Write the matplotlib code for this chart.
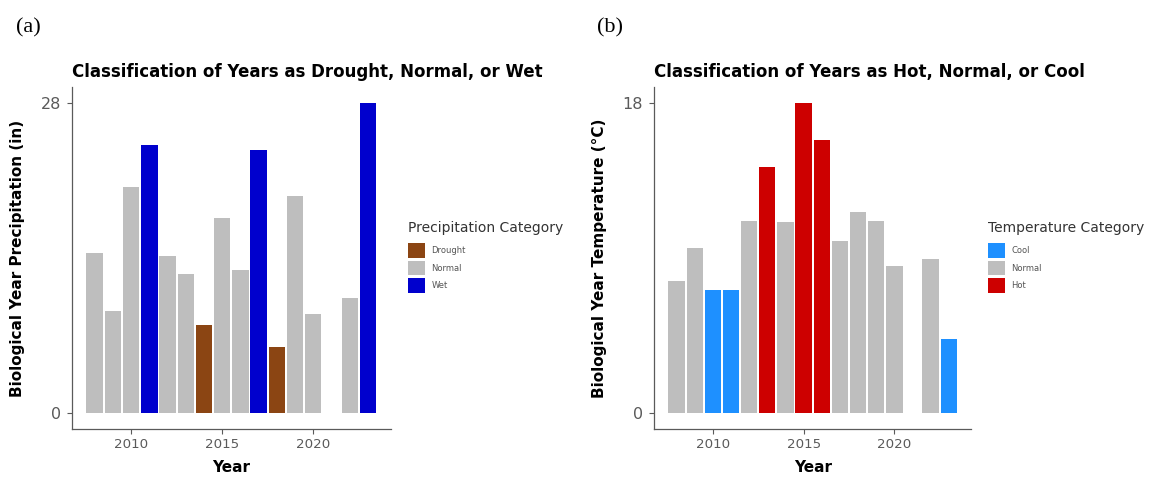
import numpy as np
import matplotlib.pyplot as plt
from matplotlib.patches import Patch

plt.rcParams['font.family'] = ['DejaVu Sans']

# datos
years = [2008, 2009, 2010, 2011, 2012, 2013, 2014, 2015, 2016, 2017, 2018, 2019, 2020, 2022, 2023]
precip = [14.5, 9.2, 20.4, 24.2, 14.2, 12.6, 8.0, 17.6, 12.9, 23.7, 6.0, 19.6, 9.0, 10.4, 28.0]
precip_cat = ['Normal', 'Normal', 'Normal', 'Wet', 'Normal', 'Normal', 'Drought', 'Normal',
              'Normal', 'Wet', 'Drought', 'Normal', 'Normal', 'Normal', 'Wet']
temp = [7.7, 9.6, 7.15, 7.15, 11.15, 14.25, 11.1, 18.0, 15.85, 10.0, 11.65, 11.15, 8.55, 8.95, 4.3]
temp_cat = ['Normal', 'Normal', 'Cool', 'Cool', 'Normal', 'Hot', 'Normal', 'Hot',
            'Hot', 'Normal', 'Normal', 'Normal', 'Normal', 'Normal', 'Cool']

precip_levels = ['Drought', 'Normal', 'Wet']
temp_levels = ['Cool', 'Normal', 'Hot']
precip_colors = {'Drought': '#8B4513', 'Normal': '#BEBEBE', 'Wet': '#0000CD'}
temp_colors = {'Cool': '#1E90FF', 'Normal': '#BEBEBE', 'Hot': '#CD0000'}

W, H = 1150, 478
fig = plt.figure(figsize=(W / 100, H / 100), dpi=100)


def panel(left, right, vals, cats, colors, levels, ymax, title, ylabel, legtitle, legx, letter, letx):
    ax = fig.add_axes([left / W, 1 - 429 / H, (right - left) / W, 341.8 / H])
    ax.bar(years, vals, width=0.9, color=[colors[c] for c in cats], linewidth=0)
    ax.set_xlim(2006.755, 2024.245)
    ax.set_ylim(-0.05 * ymax, 1.05 * ymax)
    ax.set_xticks([2010, 2015, 2020])
    ax.set_yticks([0, ymax])
    for s in ['top', 'right']:
        ax.spines[s].set_visible(False)
    for s in ['left', 'bottom']:
        ax.spines[s].set_color('#5a5a5a')
        ax.spines[s].set_linewidth(0.9)
    ax.tick_params(axis='x', labelsize=9.6, colors='#5a5a5a', length=3.6, width=0.8, pad=3)
    ax.tick_params(axis='y', labelsize=11.5, colors='#5a5a5a', length=3.6, width=0.8, pad=4.5)

    ax.set_title(title, loc='left', fontsize=12, fontweight='bold', pad=7)
    ax.set_xlabel('Year', fontsize=11, fontweight='bold')
    ax.xaxis.set_label_coords(0.5, -0.092)
    ax.set_ylabel(ylabel, fontsize=11, fontweight='bold')
    ax.yaxis.set_label_coords(-0.147, 0.5)

    handles = [Patch(facecolor=colors[l], edgecolor='none', label=l) for l in levels]
    leg = ax.legend(handles=handles, title=legtitle, loc='upper left',
                    bbox_to_anchor=(legx / W, 1 - 221 / H), bbox_transform=fig.transFigure,
                    frameon=False, fontsize=6, title_fontsize=10, alignment='left',
                    handlelength=2.0, handleheight=2.35, labelspacing=0.3,
                    handletextpad=0.8, borderpad=0, borderaxespad=0)
    leg._legend_box.sep = 6
    leg.get_title().set_color('#333333')
    for t in leg.get_texts():
        t.set_color('#555555')

    fig.text(letx / W, 1 - 28 / H, letter, fontsize=16, family='Liberation Serif',
             ha='left', va='center')
    return ax


panel(72, 390.6, precip, precip_cat, precip_colors, precip_levels, 28,
      'Classification of Years as Drought, Normal, or Wet',
      'Biological Year Precipitation (in)', 'Precipitation Category', 408, '(a)', 16)
panel(654, 971.4, temp, temp_cat, temp_colors, temp_levels, 18,
      'Classification of Years as Hot, Normal, or Cool',
      'Biological Year Temperature (°C)', 'Temperature Category', 988, '(b)', 597)

fig.savefig('out.png', dpi=100)
